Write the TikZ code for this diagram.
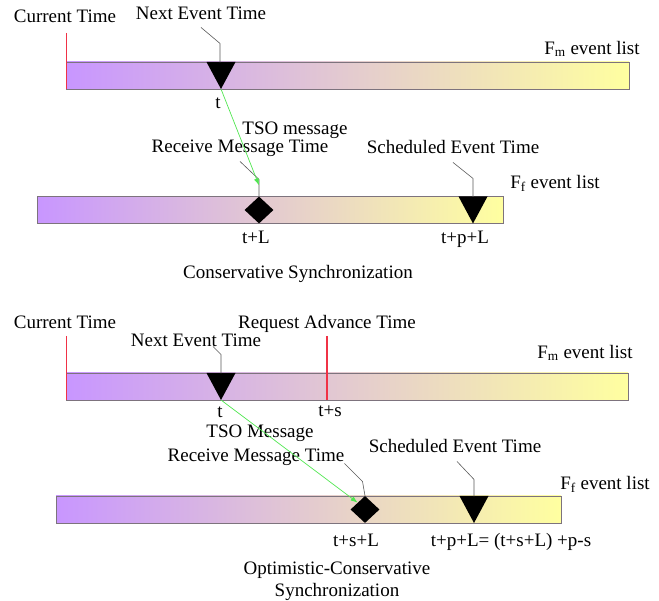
\documentclass[tikz,border=0pt]{standalone}
\usepackage{fontspec}
\setmainfont{Liberation Serif}
\usetikzlibrary{shapes.geometric,arrows.meta}
\definecolor{barL}{RGB}{200,150,255}
\definecolor{barR}{RGB}{255,255,160}
\definecolor{barline}{RGB}{125,115,125}
\definecolor{msggreen}{RGB}{80,230,80}
\definecolor{nowred}{RGB}{240,50,70}
\tikzset{
  lbl/.style={inner sep=0pt, text height=12.5pt, text depth=0pt, font=\fontsize{19}{22}\selectfont},
  evlist/.style={left color=barL, right color=barR, draw=barline, line width=0.9pt, minimum height=27pt, inner sep=0pt},
  leader/.style={draw=black!65, line width=0.6pt},
  nowline/.style={draw=nowred, line width=1.4pt},
  tso/.style={draw=msggreen, line width=0.7pt, -{Latex[length=7pt,width=5pt]}},
  recv/.style={diamond, fill=black, minimum width=29pt, minimum height=27pt, inner sep=0pt},
}

\begin{document}
\begin{tikzpicture}[x=1pt, y=-1pt]
	\useasboundingbox (0,0) rectangle (659,601);

	% conservative synchronization
	\node [evlist, minimum width=563pt] (fm1) at (347.5,75.5) {};
	\node [evlist, minimum width=466pt] (ff1) at (270,210) {};
	\node [lbl] (cur1) at (65,16) {Current Time};
	\draw [nowline] (66.5,33) -- (66.5,89);
	\node [lbl] (net1) at (201,13) {Next Event Time};
	\coordinate (ne1) at (221,89);
	\fill (ne1) -- ++(-14.5,-27) -- ++(29,0) -- cycle;
	\draw [leader] ([yshift=-8pt]net1.south) -- ++(19,16) -- ++(0,19);
	\node [lbl] (t1) at (218,102) {t};
	\node [lbl] (fml1) at (592,48) {F\textsubscript{m} event list};
	\node [recv] (rm1) at (259,210) {};
	\node [lbl] (tso1) at (295,128) {TSO message};
	\node [lbl] (rmt1) at (240,146) {Receive Message Time};
	\draw [leader] ([yshift=-9pt]rmt1.south) -- ++(19,18) -- (rm1.north);
	\draw [tso] (ne1) -- ([yshift=11pt]rm1.north);
	\node [lbl] (tl1) at (256,237) {t+L};
	\node [lbl] (set1) at (453,147) {Scheduled Event Time};
	\coordinate (se1) at (473,223.5);
	\fill (se1) -- ++(-14.5,-27) -- ++(29,0) -- cycle;
	\draw [leader] ([yshift=-9pt]set1.south) -- ++(20,16) -- ++(0,18.5);
	\node [lbl] (tpl1) at (465,237) {t+p+L};
	\node [lbl] (ffl1) at (555,182) {F\textsubscript{f} event list};
	\node [lbl] (cap1) at (298,272) {Conservative Synchronization};

	% optimistic-conservative synchronization
	\node [evlist, minimum width=562pt] (fm2) at (347,386.5) {};
	\node [evlist, minimum width=505pt] (ff2) at (308.5,509.5) {};
	\node [lbl] (cur2) at (65,322) {Current Time};
	\draw [nowline] (66.5,336) -- (66.5,400);
	\node [lbl] (rat) at (327,322) {Request Advance Time};
	\draw [nowline] (327,336) -- (327,400);
	\node [lbl] (net2) at (196,340) {Next Event Time};
	\coordinate (ne2) at (221,400);
	\fill (ne2) -- ++(-14.5,-27) -- ++(29,0) -- cycle;
	\draw [leader] ([xshift=17pt]net2.south) -- ++(8,8) -- ++(0,19);
	\node [lbl] (t2) at (220,411) {t};
	\node [lbl] (ts2) at (330,410) {t+s};
	\node [lbl] (fml2) at (585,352) {F\textsubscript{m} event list};
	\node [recv] (rm2) at (365,509.5) {};
	\node [lbl] (tso2) at (260,431) {TSO Message};
	\node [lbl] (rmt2) at (256,455) {Receive Message Time};
	\draw [leader] ([yshift=-2pt]rmt2.south east) -- ++(18,18) -- (rm2.north);
	\draw [tso] (ne2) -- (rm2.north west);
	\node [lbl] (tsl2) at (356,540) {t+s+L};
	\node [lbl] (set2) at (455,446) {Scheduled Event Time};
	\coordinate (se2) at (474,523);
	\fill (se2) -- ++(-14.5,-27) -- ++(29,0) -- cycle;
	\draw [leader] ([xshift=2pt,yshift=-9pt]set2.south) -- ++(17,18) -- ++(0,17);
	\node [lbl] (tpl2) at (511,540) {t+p+L= (t+s+L) +p-s};
	\node [lbl] (ffl2) at (605,483) {F\textsubscript{f} event list};
	\node [lbl, align=center] (cap2) at (337,590) {Optimistic-Conservative\\Synchronization};
\end{tikzpicture}
\end{document}
